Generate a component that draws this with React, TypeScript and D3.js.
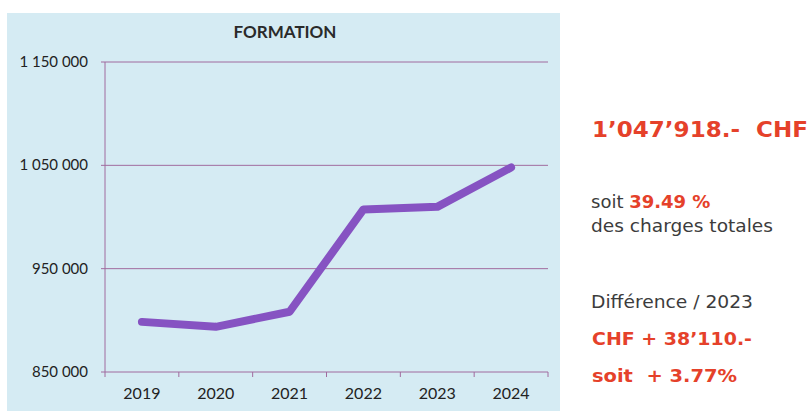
import React from "react";
import * as d3 from "d3";

const years = ["2019", "2020", "2021", "2022", "2023", "2024"];
const values = [898500, 893700, 908300, 1007300, 1009808, 1047918];
const yTicks = [850000, 950000, 1050000, 1150000];
const title = "FORMATION";

const W = 810, H = 416;
const plot = { left: 105, right: 548, top: 62, bottom: 372 };

export default function App() {
  const x = d3.scaleBand().domain(years).range([plot.left, plot.right]);
  const y = d3.scaleLinear().domain([850000, 1150000]).range([plot.bottom, plot.top]);
  const line = d3.line<number>()
    .x((_, i) => (x(years[i]) as number) + x.bandwidth() / 2)
    .y((d) => y(d));
  const fmt = (v: number) => d3.format(",")(v).replace(/,/g, " ");
  const red = "#e5412a";
  const grey = "#3c3c3c";
  const ff = "Lato, 'Open Sans', sans-serif";
  const rf = "'DejaVu Sans', Verdana, sans-serif";
  const boundaries = d3.range(years.length + 1).map((i) => plot.left + i * x.bandwidth());
  const pre = { whiteSpace: "pre" as const };
  return (
    <svg width={W} height={H} style={{ position: "absolute", left: 0, top: 0, background: "#fff" }}>
      <rect x={7} y={13} width={553} height={398} fill="#d5ebf3" />
      <text x={285} y={38} textAnchor="middle" fontFamily={ff} fontWeight={700} fontSize={17} fill="#2a2a2a">{title}</text>
      {yTicks.map((t) => (
        <g key={t}>
          <line x1={plot.left - 4} x2={plot.right} y1={y(t)} y2={y(t)} stroke="#a06b9e" strokeWidth={1} />
          <text x={88} y={y(t) + 5} textAnchor="end" fontFamily={ff} fontSize={15} fill="#222" style={pre}>{fmt(t)}</text>
        </g>
      ))}
      <line x1={plot.left} x2={plot.left} y1={plot.top} y2={plot.bottom} stroke="#a06b9e" strokeWidth={1} />
      {boundaries.map((b, i) => (
        <line key={i} x1={b} x2={b} y1={plot.bottom} y2={plot.bottom + 5} stroke="#a06b9e" strokeWidth={1} />
      ))}
      {years.map((yr) => (
        <text key={yr} x={(x(yr) as number) + x.bandwidth() / 2} y={399} textAnchor="middle" fontFamily={ff} fontSize={16} fill="#222">{yr}</text>
      ))}
      <path d={line(values) || ""} fill="none" stroke="#8653c2" strokeWidth={8} strokeLinejoin="round" strokeLinecap="round" />
      <text x={592} y={137} fontFamily={rf} fontWeight={700} fontSize={21} fill={red} style={pre} textLength={216} lengthAdjust="spacingAndGlyphs">1’047’918.-  CHF</text>
      <text x={591} y={208} fontFamily={rf} fontSize={18} fill={grey} style={pre}>soit <tspan fontWeight={700} fill={red}>39.49 %</tspan></text>
      <text x={591} y={232} fontFamily={rf} fontSize={18} fill={grey} textLength={182} lengthAdjust="spacingAndGlyphs">des charges totales</text>
      <text x={591} y={308} fontFamily={rf} fontSize={18} fill={grey} textLength={162} lengthAdjust="spacingAndGlyphs">Différence / 2023</text>
      <text x={592} y={345} fontFamily={rf} fontWeight={700} fontSize={18} fill={red} style={pre} textLength={160} lengthAdjust="spacingAndGlyphs">CHF + 38’110.-</text>
      <text x={592} y={382} fontFamily={rf} fontWeight={700} fontSize={18} fill={red} style={pre} textLength={145} lengthAdjust="spacingAndGlyphs">soit  + 3.77%</text>
    </svg>
  );
}
